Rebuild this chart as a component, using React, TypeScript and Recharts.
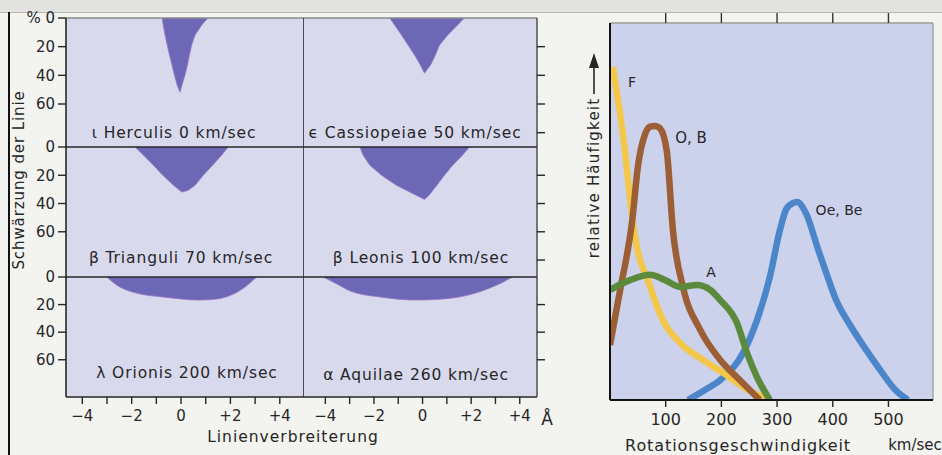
import React from 'react';
import { AreaChart, Area, LineChart, Line, XAxis, YAxis, CartesianGrid, ReferenceLine } from 'recharts';

// ---------- data: line profiles (offset in Å, depth in %) ----------
const starNames = ['ι Herculis', 'ϵ Cassiopeiae', 'β Trianguli', 'β Leonis', 'λ Orionis', 'α Aquilae'];
const rotationSpeeds = [0, 50, 70, 100, 200, 260];

const herculisOffset = [-0.77, -0.65, -0.47, -0.27, -0.16, -0.04, 0.04, 0.16, 0.26, 0.34, 0.43, 0.57, 0.84, 1.09];
const herculisDepth = [0, 11.8, 25.8, 39.7, 46.7, 51.8, 46.7, 39.7, 32.8, 25.8, 18.8, 11.8, 4.9, 0];

const cassiopeiaeOffset = [-1.35, -0.87, -0.6, -0.33, -0.09, 0.08, 0.33, 0.53, 0.7, 1.04, 1.31, 1.72];
const cassiopeiaeDepth = [0, 11.8, 18.8, 25.8, 32.8, 38.5, 32.8, 25.8, 18.8, 11.8, 7.2, 0];

const trianguliOffset = [-1.86, -1.53, -1.12, -0.74, -0.31, 0.03, 0.28, 0.57, 0.9, 1.28, 1.65, 1.91];
const trianguliDepth = [0, 5.7, 12.9, 20, 27.1, 31.9, 30.7, 27.1, 20, 12.9, 5.7, 0];

const leonisOffset = [-2.58, -2.45, -2.17, -1.69, -1.08, -0.53, 0.08, 0.26, 0.59, 0.9, 1.24, 1.65, 1.93];
const leonisDepth = [0, 5.7, 12.9, 20, 27.1, 31.9, 37.1, 34.3, 27.1, 20, 12.9, 5.7, 0];

const orionisOffset = [-3.0, -2.67, -1.94, -0.58, 0.77, 1.45, 2.12, 2.66, 3.06];
const orionisDepth = [0, 5.1, 11.1, 14.8, 16.7, 16, 12.4, 6.3, 0];

const aquilaeOffset = [-4.09, -3.6, -3.0, -1.63, -0.26, 1.11, 2.47, 3.29, 3.7];
const aquilaeDepth = [0, 4.4, 10, 14.8, 16.7, 15.5, 10, 3.9, 0];

const profileTicksX = [-4, -3, -2, -1, 0, 1, 2, 3, 4];
const profileTicksY = [0, 20, 40, 60];
const profileRightTicks = [[20, 40, 60, 80], [20, 40, 60, 80], [20, 40, 60]];

// ---------- data: rotational velocity distributions ----------
const fSpeed = [5, 14, 23, 43, 72, 95, 126, 167, 203, 242, 278];
const fFreq = [88.3, 80, 70.8, 45, 30, 21.2, 15.1, 10.6, 7.2, 3.2, 0.5];

const obSpeed = [0, 18, 40, 50, 63, 72, 81, 90, 102, 113, 131, 162, 198, 233, 269];
const obFreq = [14.6, 29, 47.7, 61.8, 70.5, 72.5, 72.7, 72, 66, 45, 30, 18.6, 10.6, 5.3, 0];

const aSpeed = [0, 36, 72, 99, 126, 156, 180, 198, 228, 246, 264, 287];
const aFreq = [29.2, 31.8, 33.2, 31.8, 30, 30.5, 29.2, 26.5, 20.4, 12.5, 6.1, 0];

const oeSpeed = [140, 171, 198, 239, 264, 287, 305, 318, 336, 352, 374, 390, 406, 431, 460, 485, 512, 535];
const oeFreq = [0, 2.7, 5.3, 12.5, 21.2, 32.6, 45, 51, 52.5, 49.5, 39.8, 33, 26.5, 19.9, 13.3, 8, 2.7, 0];

const speedTicks = [100, 200, 300, 400, 500];

// ---------- layout / style ----------
const FONT = "'DejaVu Sans', sans-serif";
const CELL_BG = '#d9d9ee';
const LINE_FILL = '#6d68b6';
const RIGHT_BG = '#ccd1ec';
const INK = '#262626';

const rowTops = [18, 147, 277];
const rowHeights = [129, 130, 120];
const rowMax = [90, 92, 87];
const colLefts = [66, 303];
const colWidths = [237, 234];
const xDomains: [number, number][] = [[-4.66, 4.94], [-4.92, 4.71]];

const profiles = [
  { offset: herculisOffset, depth: herculisDepth, curve: 'linear' },
  { offset: cassiopeiaeOffset, depth: cassiopeiaeDepth, curve: 'linear' },
  { offset: trianguliOffset, depth: trianguliDepth, curve: 'linear' },
  { offset: leonisOffset, depth: leonisDepth, curve: 'linear' },
  { offset: orionisOffset, depth: orionisDepth, curve: 'monotone' },
  { offset: aquilaeOffset, depth: aquilaeDepth, curve: 'monotone' },
];

const labelPos = [
  [174, 133], [415, 133], [181, 258], [421, 258], [187, 373], [416, 375],
];

function fmtOffset(v: number) {
  if (v % 2 !== 0) return '';
  if (v === 0) return '0';
  return v > 0 ? `+${v}` : `−${-v}`;
}

function ProfileCell({ idx }: { idx: number }) {
  const row = Math.floor(idx / 2);
  const col = idx % 2;
  const p = profiles[idx];
  const data = p.offset.map((x, i) => ({ x, d: p.depth[i] }));
  const padTop = 10;
  const axisH = row === 2 ? 40 : 0;
  const yW = col === 0 ? 50 : 12;
  const left = col === 0 ? colLefts[0] - yW : colLefts[1];
  const width = colWidths[col] + yW;
  const height = rowHeights[row] + padTop + axisH;
  return (
    <div style={{ position: 'absolute', left, top: rowTops[row] - padTop }}>
      <AreaChart width={width} height={height} data={data}
        margin={{ top: padTop, right: 0, left: 0, bottom: 0 }}>
        <CartesianGrid horizontal={false} vertical={false} fill={CELL_BG} />
        <XAxis type="number" dataKey="x" domain={xDomains[col]} allowDataOverflow
          hide={row !== 2} ticks={profileTicksX} interval={0} tickFormatter={fmtOffset}
          height={axisH} tickSize={7} tickMargin={6}
          tick={{ fontSize: 15, fill: INK, fontFamily: FONT }}
          tickLine={{ stroke: INK, strokeWidth: 1.4 }} axisLine={{ stroke: INK, strokeWidth: 1.6 }} />
        {col === 0 ? (
          <YAxis type="number" domain={[0, rowMax[row]]} reversed allowDataOverflow width={yW}
            ticks={profileTicksY} interval={0} tickSize={8} tickMargin={3}
            tickFormatter={(v: number) => (row === 0 && v === 0 ? '% 0' : String(v))}
            tick={{ fontSize: 15, fill: INK, fontFamily: FONT }}
            tickLine={{ stroke: INK, strokeWidth: 1.4 }} axisLine={{ stroke: INK, strokeWidth: 1.6 }} />
        ) : (
          <YAxis type="number" orientation="right" domain={[0, rowMax[row]]} reversed allowDataOverflow width={yW}
            ticks={profileRightTicks[row]} interval={0} tickSize={8} tickFormatter={() => ''}
            tickLine={{ stroke: INK, strokeWidth: 1.4 }} axisLine={{ stroke: '#444', strokeWidth: 1.4 }} />
        )}
        <Area type={p.curve as any} dataKey="d" fill={LINE_FILL} fillOpacity={1}
          stroke="#9a76c4" strokeWidth={0.8} isAnimationActive={false} dot={false} activeDot={false} />
        <ReferenceLine y={0} stroke={row === 0 ? '#8a8a8a' : INK} strokeWidth={1.5} />
        {col === 1 && <ReferenceLine x={xDomains[1][0]} stroke={INK} strokeWidth={1.6} />}
      </AreaChart>
    </div>
  );
}

export default function App() {
  const fData = fSpeed.map((v, i) => ({ v, y: fFreq[i] }));
  const obData = obSpeed.map((v, i) => ({ v, y: obFreq[i] }));
  const aData = aSpeed.map((v, i) => ({ v, y: aFreq[i] }));
  const oeData = oeSpeed.map((v, i) => ({ v, y: oeFreq[i] }));

  return (
    <div style={{ position: 'absolute', left: 0, top: 0, width: 942, height: 455, overflow: 'hidden', background: '#f3f3f0', fontFamily: FONT }}>
      {/* scan edges */}
      <div style={{ position: 'absolute', left: 0, top: 0, width: 942, height: 12, background: '#e2e2e0', borderBottom: '1px solid #b5b5b5' }} />
      <div style={{ position: 'absolute', left: 8, top: 12, width: 2, height: 443, background: '#111' }} />

      {profiles.map((_, i) => <ProfileCell key={i} idx={i} />)}

      {/* right chart */}
      <div style={{ position: 'absolute', left: 560, top: 0 }}>
        <LineChart width={382} height={455} margin={{ top: 13, right: 9, left: 0, bottom: 0 }}>
          <CartesianGrid horizontal={false} vertical={false} fill={RIGHT_BG} />
          <XAxis xAxisId="b" type="number" dataKey="v" domain={[0, 580]} allowDataOverflow
            ticks={speedTicks} interval={0} height={55} tickSize={7} tickMargin={7}
            tick={{ fontSize: 16, fill: INK, fontFamily: FONT }}
            tickLine={{ stroke: INK, strokeWidth: 1.4 }} axisLine={{ stroke: '#111', strokeWidth: 2 }} />
          <XAxis xAxisId="t" orientation="top" type="number" dataKey="v" domain={[0, 580]} allowDataOverflow
            ticks={speedTicks} interval={0} height={10} tickSize={10} tickFormatter={() => ''}
            tickLine={{ stroke: '#333', strokeWidth: 1.4 }} axisLine={{ stroke: '#9a9a9a', strokeWidth: 1.4 }} />
          <YAxis type="number" domain={[0, 100]} allowDataOverflow width={50} tick={false} tickLine={false}
            axisLine={{ stroke: '#111', strokeWidth: 2 }} />
          <ReferenceLine xAxisId="b" x={580} stroke="#a0a0a0" strokeWidth={1.4} />
          <Line xAxisId="b" data={oeData} dataKey="y" type="monotone" stroke="#4a86c9" strokeWidth={6.5}
            dot={false} activeDot={false} isAnimationActive={false} />
          <Line xAxisId="b" data={fData} dataKey="y" type="monotone" stroke="#f3c84a" strokeWidth={6.5}
            dot={false} activeDot={false} isAnimationActive={false} />
          <Line xAxisId="b" data={obData} dataKey="y" type="monotone" stroke="#9c5e35" strokeWidth={6.5}
            dot={false} activeDot={false} isAnimationActive={false} />
          <Line xAxisId="b" data={aData} dataKey="y" type="monotone" stroke="#5c8a3c" strokeWidth={6.5}
            dot={false} activeDot={false} isAnimationActive={false} />
        </LineChart>
      </div>

      {/* text overlay */}
      <svg width={942} height={455} style={{ position: 'absolute', left: 0, top: 0, pointerEvents: 'none' }}>
        <g fontFamily={FONT} fill={INK}>
          {starNames.map((n, i) => (
            <text key={n} x={labelPos[i][0]} y={labelPos[i][1]} textAnchor="middle" dominantBaseline="central"
              fontSize={15.5} letterSpacing={0.9}>{`${n} ${rotationSpeeds[i]} km/sec`}</text>
          ))}
          <text x={19} y={180} transform="rotate(-90 19 180)" textAnchor="middle" dominantBaseline="central"
            fontSize={15} letterSpacing={0.9}>Schwärzung der Linie</text>
          <text x={293} y={437} textAnchor="middle" dominantBaseline="central" fontSize={15.5} letterSpacing={1}>Linienverbreiterung</text>
          <text x={547} y={419} textAnchor="middle" dominantBaseline="central" fontSize={17}>Å</text>

          <text x={594} y={178} transform="rotate(-90 594 178)" textAnchor="middle" dominantBaseline="central"
            fontSize={15} letterSpacing={1.2}>relative Häufigkeit</text>
          <line x1={594} y1={94} x2={594} y2={66} stroke={INK} strokeWidth={1.6} />
          <polygon points="589,68 599,68 594,53" fill={INK} />

          <text x={738} y={445} textAnchor="middle" dominantBaseline="central" fontSize={16} letterSpacing={0.9}>Rotationsgeschwindigkeit</text>
          <text x={915} y={445} textAnchor="middle" dominantBaseline="central" fontSize={15}>km/sec</text>

          <text x={632} y={82} textAnchor="middle" dominantBaseline="central" fontSize={14}>F</text>
          <text x={691} y={138} textAnchor="middle" dominantBaseline="central" fontSize={15}>O, B</text>
          <text x={839} y={210} textAnchor="middle" dominantBaseline="central" fontSize={14}>Oe, Be</text>
          <text x={711} y={272} textAnchor="middle" dominantBaseline="central" fontSize={14}>A</text>
        </g>
      </svg>
    </div>
  );
}
